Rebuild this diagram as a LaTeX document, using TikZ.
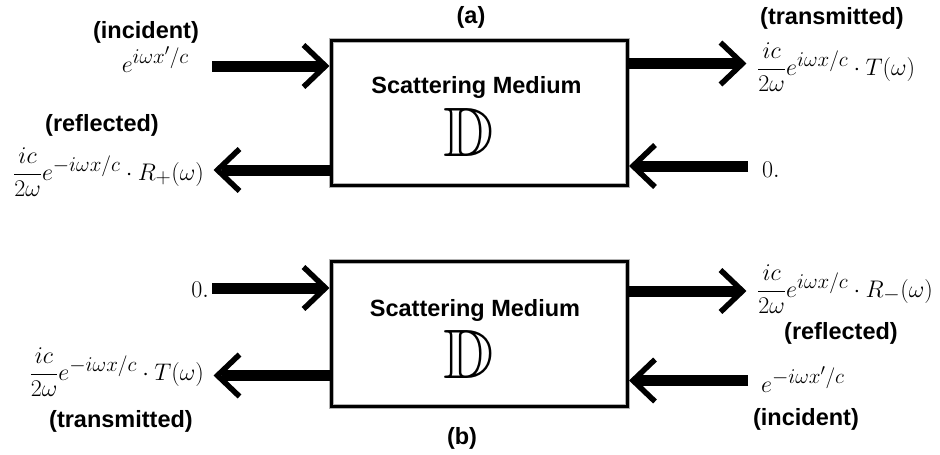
\RequirePackage{fix-cm}
\documentclass[tikz,border=0pt]{standalone}
\usepackage{amsmath}
\usepackage{amssymb}
\usepackage{fontspec}
\newfontfamily\labfont{Liberation Sans}
\DeclareMathSizes{24}{24}{21}{16}
\usetikzlibrary{calc}
\tikzset{
  lbl/.style={font=\labfont\bfseries\fontsize{23.5}{28}\selectfont, inner sep=0pt},
  eq/.style={font=\fontsize{24}{28}\selectfont, inner sep=0pt},
  medium/.style={draw=black, line width=3pt, minimum width=295.5pt, minimum height=145pt, inner sep=0pt,
    preaction={draw=black!30, line width=5pt}},
  shaft/.style={line width=11pt},
  barb/.style={line width=5.5pt, line join=miter},
  bigD/.style={font=\fontsize{70}{70}\selectfont, inner sep=0pt},
}
\begin{document}
\begin{tikzpicture}[x=1pt,y=-1pt]
\useasboundingbox (0,0) rectangle (940,455);
\fill[white] (0,0) rectangle (940,455);

% ---------------- (a) ----------------
\node[medium] (A) at (479.25,112.5) {};
\node[lbl, anchor=base] (Amed) at (476.5,93) {Scattering Medium};
\node[bigD] (AD) at (469,132) {$\mathbb{D}$};
\node[lbl] (Alab) at (471,17) {(a)};
\node[lbl] (Ainc) at (146,32) {(incident)};
\node[eq, anchor=base east] (Ainw) at (189,72) {$e^{i\omega x'/c}$};
\node[lbl] (Aref) at (102,125) {(reflected)};
\node[eq, anchor=base east] (Arefw) at (204,180) {$\dfrac{ic}{2\omega}e^{-i\omega x/c}\cdot R_{+}(\omega)$};
\node[lbl] (Atr) at (832,18) {(transmitted)};
\node[eq, anchor=base west] (Atrw) at (757,75) {$\dfrac{ic}{2\omega}e^{i\omega x/c}\cdot T(\omega)$};
\node[eq, anchor=base west] (Azero) at (762,177) {$0.$};

\coordinate (a1) at (212,66);
\draw[shaft] (a1) -- ($(A.west |- a1)+(-8.5,0)$);
\draw[barb] ($(A.west |- a1)+(-4.5,0)$) ++(-22,-21) -- ++(22,21) -- ++(-22,21);

\coordinate (a2) at (217.5,170);
\draw[shaft] (A.west |- a2) -- ($(a2)+(4,0)$);
\draw[barb] (a2) ++(22,-21) -- ++(-22,21) -- ++(22,21);

\coordinate (a3) at (742.5,63.5);
\draw[shaft] (A.east |- a3) -- ($(a3)+(-4,0)$);
\draw[barb] (a3) ++(-22,-21) -- ++(22,21) -- ++(-22,21);

\coordinate (a4) at (748,166);
\draw[shaft] (a4) -- ($(A.east |- a4)+(8.5,0)$);
\draw[barb] ($(A.east |- a4)+(4.5,0)$) ++(22,-21) -- ++(-22,21) -- ++(22,21);

% ---------------- (b) ----------------
\node[medium] (B) at (479.25,333.75) {};
\node[lbl, anchor=base] (Bmed) at (475,316) {Scattering Medium};
\node[bigD] (BD) at (469,354) {$\mathbb{D}$};
\node[lbl] (Blab) at (462,438) {(b)};
\node[eq, anchor=base east] (Bzero) at (209,297) {$0.$};
\node[eq, anchor=base east] (Btrw) at (204,380) {$\dfrac{ic}{2\omega}e^{-i\omega x/c}\cdot T(\omega)$};
\node[lbl] (Btr) at (121,421) {(transmitted)};
\node[eq, anchor=base west] (Brefw) at (757,297) {$\dfrac{ic}{2\omega}e^{i\omega x/c}\cdot R_{-}(\omega)$};
\node[lbl] (Bref) at (841,333) {(reflected)};
\node[eq, anchor=base west] (Bincw) at (761,392) {$e^{-i\omega x'/c}$};
\node[lbl] (Binc) at (806,419) {(incident)};

\coordinate (b1) at (212,288);
\draw[shaft] (b1) -- ($(B.west |- b1)+(-8.5,0)$);
\draw[barb] ($(B.west |- b1)+(-4.5,0)$) ++(-22,-21) -- ++(22,21) -- ++(-22,21);

\coordinate (b2) at (217.5,375.5);
\draw[shaft] (B.west |- b2) -- ($(b2)+(4,0)$);
\draw[barb] (b2) ++(22,-21) -- ++(-22,21) -- ++(22,21);

\coordinate (b3) at (742.5,291);
\draw[shaft] (B.east |- b3) -- ($(b3)+(-4,0)$);
\draw[barb] (b3) ++(-22,-21) -- ++(22,21) -- ++(-22,21);

\coordinate (b4) at (748,380.5);
\draw[shaft] (b4) -- ($(B.east |- b4)+(8.5,0)$);
\draw[barb] ($(B.east |- b4)+(4.5,0)$) ++(22,-21) -- ++(-22,21) -- ++(22,21);
\end{tikzpicture}
\end{document}
